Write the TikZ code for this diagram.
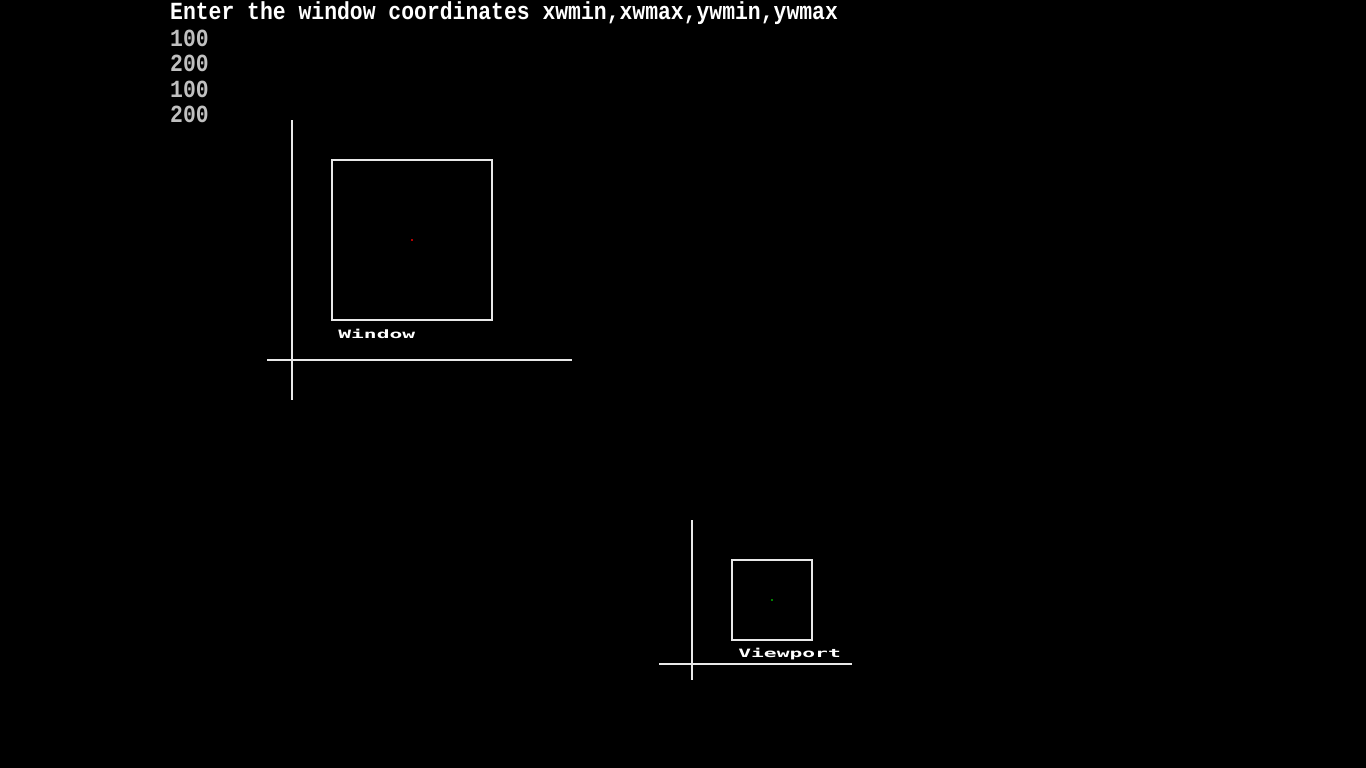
\documentclass[tikz,border=0pt]{standalone}
\usepackage{fontspec}
\setmonofont{Liberation Mono}
\newfontfamily\lblfont{DejaVu Sans Mono}
\begin{document}
\begin{tikzpicture}[x=1pt,y=-1pt,
  promptline/.style={anchor=west,inner sep=0pt,text=white,font=\ttfamily\bfseries\fontsize{21.4}{22}\selectfont,yscale=1.15},
  numline/.style={anchor=west,inner sep=0pt,text=numgrey,font=\ttfamily\bfseries\fontsize{21.4}{22}\selectfont,yscale=1.15},
  caption/.style={anchor=west,inner sep=0pt,text=white,font=\lblfont\bfseries\fontsize{11.5}{12}\selectfont,xscale=1.85},
  axis/.style={draw=axisgrey,line width=1.3pt},
  frame/.style={draw=axisgrey,line width=1.3pt,inner sep=0pt,fill=none}]
\definecolor{numgrey}{HTML}{C0C0C0}
\definecolor{axisgrey}{HTML}{E8E8E8}
\fill[black] (0,0) rectangle (1366,768);
\useasboundingbox (0,0) rectangle (1366,768);
% prompt text
\node[promptline] (prompt) at (170,13) {Enter the window coordinates xwmin,xwmax,ywmin,ywmax};
\node[numline] (n1) at (170,38) {100};
\node[numline] (n2) at (170,63) {200};
\node[numline] (n3) at (170,89) {100};
\node[numline] (n4) at (170,114) {200};
% window axes
\coordinate (wyt) at (292,120);
\coordinate (wyb) at (292,400);
\coordinate (wxl) at (267,360);
\coordinate (wxr) at (572,360);
\draw[axis] (wyt) -- (wyb);
\draw[axis] (wxl) -- (wxr);
\draw[frame] (332,160) rectangle (492,320);
\fill[red!70!black] (411,239) rectangle (413,241);
\node[caption] (wlabel) at (338,334) {Window};
% viewport axes
\coordinate (vyt) at (692,520);
\coordinate (vyb) at (692,680);
\coordinate (vxl) at (659,664);
\coordinate (vxr) at (852,664);
\draw[axis] (vyt) -- (vyb);
\draw[axis] (vxl) -- (vxr);
\draw[frame] (732,560) rectangle (812,640);
\fill[green!50!black] (771,599) rectangle (773,601);
\node[caption] (vlabel) at (738,654) {Viewport};
\end{tikzpicture}
\end{document}
